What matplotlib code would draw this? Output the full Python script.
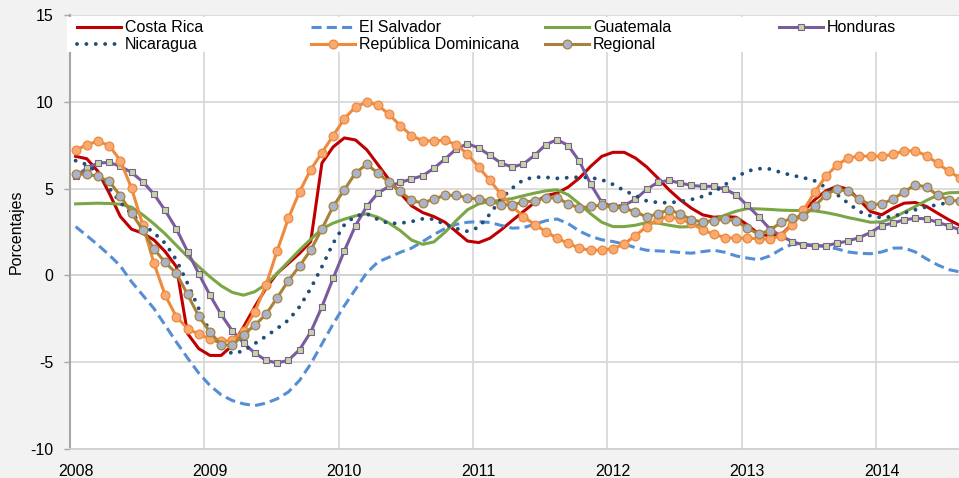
import numpy as np
import matplotlib
matplotlib.use("Agg")
import matplotlib.pyplot as plt
from matplotlib.patches import Rectangle

plt.rcParams['font.family'] = ['Liberation Sans', 'DejaVu Sans']

# meses desde enero 2008 (0 = ene-2008)
meses = np.arange(80)
anios = ["2008", "2009", "2010", "2011", "2012", "2013", "2014"]

costa_rica = [6.86, 6.72, 5.99, 4.74, 3.39, 2.66, 2.43, 2.04, 1.37, 0.50, -3.35, -4.22, -4.61, -4.61, -4.03, -2.97,
              -1.81, -0.75, 0.12, 0.69, 1.27, 1.95, 6.47, 7.40, 7.92, 7.80, 7.24, 6.38, 5.51, 4.74, 4.01, 3.62,
              3.39, 3.06, 2.52, 1.98, 1.89, 2.14, 2.62, 3.16, 3.68, 4.20, 4.59, 4.74, 5.09, 5.61, 6.28, 6.86,
              7.09, 7.09, 6.76, 6.25, 5.61, 4.93, 4.35, 3.87, 3.49, 3.35, 3.39, 3.35, 2.91, 2.39, 2.27, 2.33,
              2.95, 3.68, 4.35, 4.87, 5.13, 4.97, 4.35, 3.68, 3.49, 3.87, 4.16, 4.20, 3.97, 3.58, 3.20, 2.87]
el_salvador = [2.81, 2.29, 1.75, 1.18, 0.54, -0.37, -1.14, -1.91, -2.87, -3.84, -4.76, -5.63, -6.34, -6.88, -7.21, -7.40,
               -7.50, -7.36, -7.11, -6.72, -6.05, -5.10, -3.95, -2.80, -1.75, -0.80, 0.15, 0.77, 1.05, 1.33, 1.57, 1.95,
               2.35, 2.70, 2.94, 3.06, 3.10, 3.05, 2.88, 2.72, 2.75, 2.95, 3.15, 3.25, 2.98, 2.55, 2.25, 2.05,
               1.95, 1.80, 1.60, 1.45, 1.41, 1.38, 1.32, 1.28, 1.37, 1.45, 1.33, 1.12, 1.00, 0.90, 1.12, 1.50,
               1.80, 1.80, 1.74, 1.65, 1.53, 1.35, 1.27, 1.25, 1.35, 1.57, 1.58, 1.35, 0.95, 0.60, 0.33, 0.20]
guatemala = [4.12, 4.14, 4.16, 4.14, 4.10, 3.93, 3.49, 2.97, 2.39, 1.73, 1.08, 0.50, -0.08, -0.60, -0.98, -1.14,
             -0.94, -0.52, 0.12, 0.79, 1.46, 2.08, 2.68, 3.01, 3.24, 3.43, 3.55, 3.35, 3.01, 2.58, 2.04, 1.79,
             1.93, 2.49, 3.16, 3.78, 4.12, 4.26, 4.32, 4.43, 4.59, 4.74, 4.87, 4.93, 4.64, 4.12, 3.55, 3.06,
             2.81, 2.81, 2.89, 3.04, 3.01, 2.89, 2.79, 2.81, 2.97, 3.20, 3.47, 3.70, 3.85, 3.83, 3.80, 3.76,
             3.74, 3.74, 3.72, 3.62, 3.49, 3.33, 3.20, 3.06, 3.08, 3.31, 3.64, 3.97, 4.32, 4.62, 4.76, 4.78]
honduras = [5.70, 6.18, 6.47, 6.51, 6.28, 5.93, 5.39, 4.68, 3.74, 2.68, 1.37, 0.10, -1.14, -2.25, -3.20, -3.89,
            -4.47, -4.89, -5.05, -4.89, -4.28, -3.26, -1.81, -0.17, 1.41, 2.87, 3.97, 4.74, 5.13, 5.36, 5.55, 5.74,
            6.17, 6.71, 7.28, 7.59, 7.34, 6.92, 6.47, 6.24, 6.42, 6.92, 7.53, 7.82, 7.48, 6.57, 5.26, 4.20,
            3.97, 4.03, 4.39, 4.95, 5.36, 5.47, 5.32, 5.18, 5.13, 5.13, 4.97, 4.64, 4.03, 3.39, 2.68, 2.27,
            1.95, 1.75, 1.70, 1.71, 1.85, 1.98, 2.18, 2.47, 2.87, 3.01, 3.20, 3.29, 3.26, 3.06, 2.85, 2.62]
nicaragua = [6.61, 6.38, 5.90, 5.03, 4.20, 3.55, 2.95, 2.45, 1.85, 0.89, -0.46, -1.91, -3.26, -4.12, -4.51, -4.35,
             -3.93, -3.51, -3.06, -2.58, -1.81, -0.75, 0.50, 1.85, 2.91, 3.43, 3.55, 3.22, 2.99, 3.01, 3.10, 3.26,
             3.24, 2.93, 2.70, 2.54, 2.77, 3.53, 4.41, 5.03, 5.51, 5.66, 5.65, 5.59, 5.63, 5.66, 5.63, 5.51,
             5.24, 4.89, 4.59, 4.29, 4.20, 4.18, 4.26, 4.37, 4.55, 4.80, 5.22, 5.66, 6.01, 6.15, 6.13, 5.93,
             5.76, 5.63, 5.45, 5.07, 4.66, 4.16, 3.68, 3.43, 3.33, 3.39, 3.60, 3.78, 3.95, 4.07, 4.20, 4.34]
rep_dominicana = [7.21, 7.53, 7.73, 7.48, 6.61, 5.01, 2.91, 0.69, -1.14, -2.39, -3.06, -3.39, -3.64, -3.80, -3.74, -3.20,
                  -2.10, -0.56, 1.41, 3.28, 4.82, 6.09, 7.07, 8.05, 9.02, 9.71, 9.98, 9.81, 9.27, 8.63, 8.05, 7.75,
                  7.75, 7.78, 7.53, 6.99, 6.24, 5.47, 4.68, 3.97, 3.39, 2.93, 2.52, 2.14, 1.85, 1.56, 1.45, 1.46,
                  1.54, 1.81, 2.29, 2.81, 3.24, 3.39, 3.24, 3.01, 2.62, 2.37, 2.18, 2.14, 2.14, 2.12, 2.08, 2.29,
                  2.91, 3.74, 4.78, 5.70, 6.36, 6.76, 6.88, 6.86, 6.86, 6.97, 7.17, 7.17, 6.90, 6.45, 5.99, 5.61]
regional = [5.84, 5.84, 5.70, 5.41, 4.59, 3.58, 2.62, 1.52, 0.75, 0.12, -1.10, -2.35, -3.26, -3.99, -4.03, -3.41,
            -2.87, -2.25, -1.29, -0.31, 0.54, 1.46, 2.68, 3.97, 4.93, 5.90, 6.40, 5.90, 5.36, 4.84, 4.32, 4.16,
            4.41, 4.61, 4.61, 4.47, 4.39, 4.30, 4.07, 4.07, 4.22, 4.30, 4.47, 4.47, 4.12, 3.89, 3.97, 4.05,
            3.93, 3.87, 3.66, 3.37, 3.55, 3.78, 3.55, 3.20, 3.08, 3.16, 3.24, 3.14, 2.72, 2.39, 2.58, 3.06,
            3.29, 3.43, 3.97, 4.64, 4.97, 4.84, 4.39, 4.07, 4.12, 4.39, 4.82, 5.22, 5.09, 4.61, 4.35, 4.26]

fig = plt.figure(figsize=(9.59, 4.78), dpi=100, facecolor='#F2F2F2')
ax = fig.add_axes([70 / 959, 29 / 478, 889 / 959, 434 / 478])
ax.set_facecolor('white')

lw = 2.2
l_cr, = ax.plot(meses, costa_rica, color='#C00000', lw=lw, zorder=4)
l_es, = ax.plot(meses, el_salvador, color='#558ED5', lw=lw, linestyle=(0, (3.3, 1.7)), zorder=4)
l_gu, = ax.plot(meses, guatemala, color='#7BA646', lw=lw, zorder=4)
l_ho, = ax.plot(meses, honduras, color='#7A5C9C', lw=lw, marker='s', ms=4.2,
                mfc='#C4D79B', mec='#7A5C9C', mew=0.8, zorder=4)
l_ni, = ax.plot(meses, nicaragua, color='#1F4E79', lw=2.8, linestyle=(0, (0.01, 2.4)),
                dash_capstyle='round', zorder=4)
l_rd, = ax.plot(meses, rep_dominicana, color='#EE8A3C', lw=lw, marker='o', ms=6.3,
                mfc='#F8AA72', mec='#EE8A3C', mew=0.9, zorder=4)
l_rg, = ax.plot(meses, regional, color='#A8823A', lw=lw, marker='o', ms=6.3,
                mfc='#A9B4CC', mec='#A8823A', mew=0.9, zorder=4)

ax.set_xlim(-0.5, 78.9)
ax.set_ylim(-10, 15)
ax.set_yticks(np.arange(-10, 16, 5))
ax.set_yticklabels([str(v) for v in range(-10, 16, 5)])
ax.set_xticks(np.arange(-0.5, 80, 12))
ax.set_xticklabels([])
ax.set_xticks(np.arange(0, 80, 12), labels=anios, minor=True)
ax.tick_params(axis='x', which='both', length=0, labelsize=11.5, pad=11)
ax.tick_params(axis='y', length=4, color='#A6A6A6', width=1, labelsize=11.5, pad=8)
ax.grid(True, color='#D9D9D9', lw=1.3, zorder=0)
ax.axhline(0, color='#868686', lw=1.1, zorder=1)
for s in ['top', 'right']:
    ax.spines[s].set_visible(False)
ax.spines['left'].set_color('#A6A6A6')
ax.spines['left'].set_linewidth(1.5)
ax.spines['bottom'].set_color('#D0D0D0')
ax.spines['bottom'].set_linewidth(1.3)
ax.set_ylabel('Porcentajes', fontsize=11.5)
ax.yaxis.set_label_coords(-0.0517, 0.5)

# fondo blanco de la leyenda
fig.patches.append(Rectangle((67 / 959, 1 - 52 / 478), 1, 35.5 / 478, transform=fig.transFigure,
                             facecolor='white', edgecolor='none', zorder=3))

columnas = [([l_cr, l_ni], ['Costa Rica', 'Nicaragua'], 77),
            ([l_es, l_rd], ['El Salvador', 'República Dominicana'], 311),
            ([l_gu, l_rg], ['Guatemala', 'Regional'], 545),
            ([l_ho], ['Honduras'], 779)]
for hs, labs, xp in columnas:
    leg = fig.legend(hs, labs, loc='upper left', bbox_to_anchor=(xp / 959, 1 - 20.5 / 478),
                     frameon=False, fontsize=11.5, handlelength=2.75, handletextpad=0.25,
                     labelspacing=0.1, borderpad=0, borderaxespad=0, numpoints=1)
    leg.set_zorder(5)

fig.savefig('out.png', dpi=100, facecolor=fig.get_facecolor())
